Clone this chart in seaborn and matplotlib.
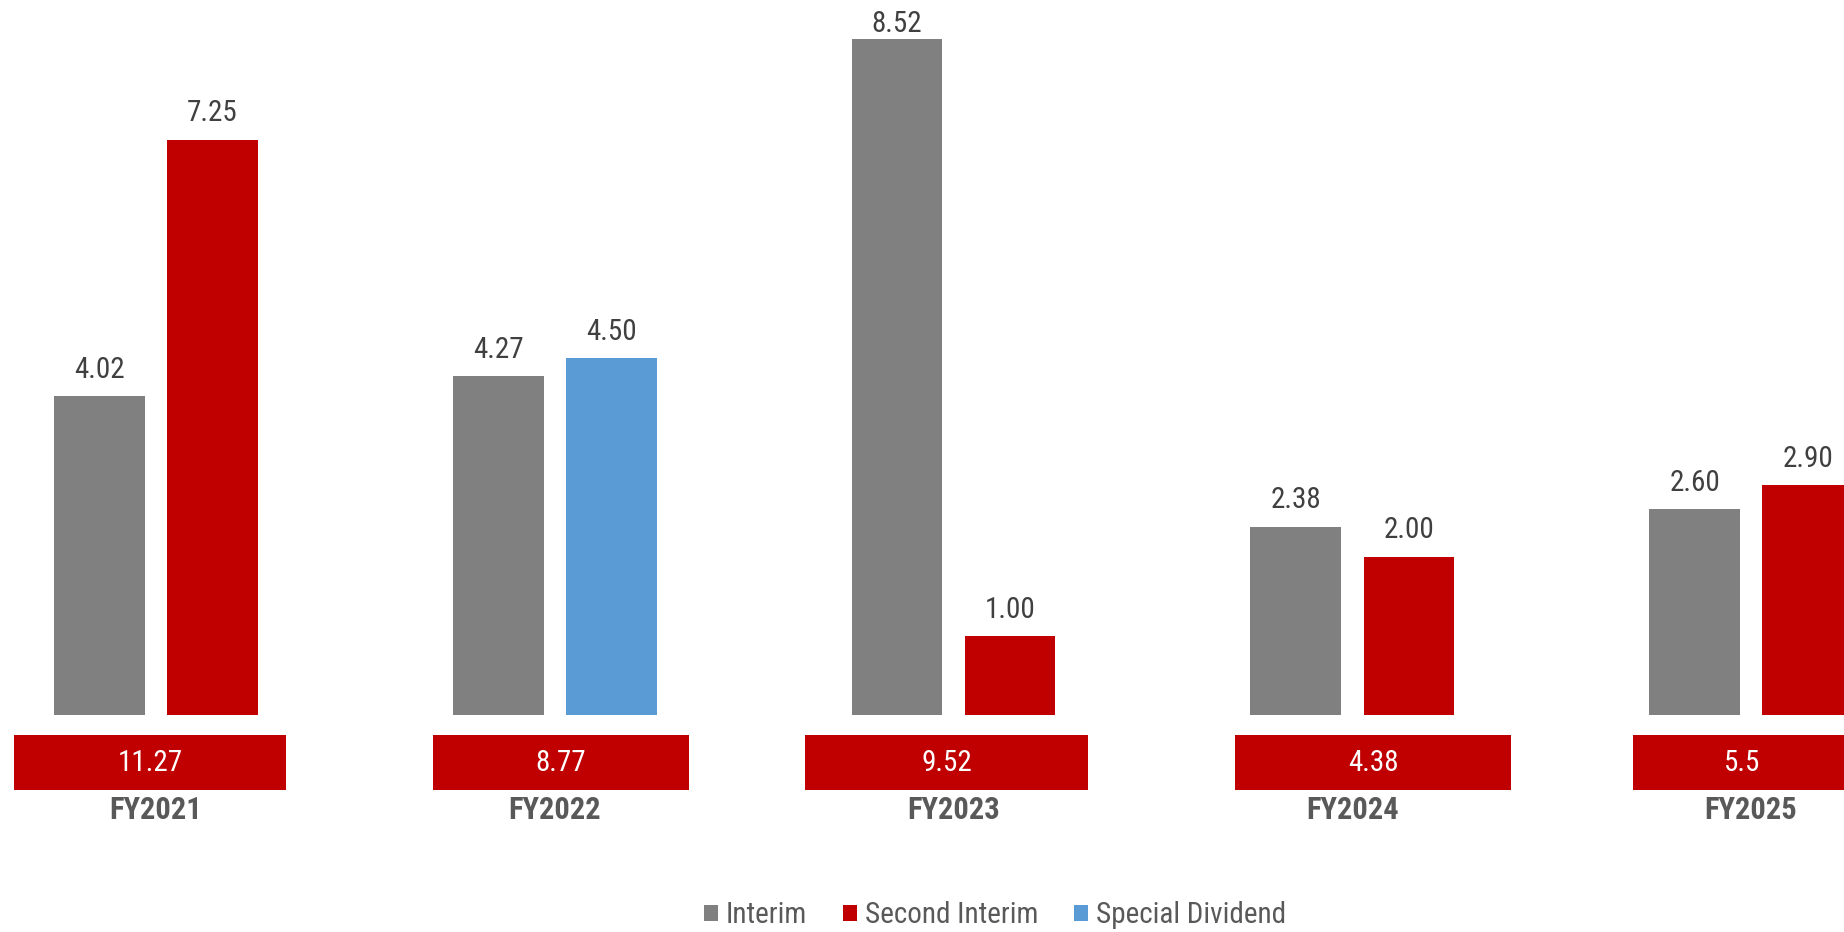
import matplotlib
matplotlib.use("Agg")
import matplotlib.pyplot as plt
from matplotlib.patches import Rectangle
from matplotlib import font_manager
import seaborn as sns
import pandas as pd

# ---- data ----
years = ["FY2021", "FY2022", "FY2023", "FY2024", "FY2025"]
interim = [4.02, 4.27, 8.52, 2.38, 2.60]
second_interim = [7.25, None, 1.00, 2.00, 2.90]
special_dividend = [None, 4.50, None, None, None]
totals = ["11.27", "8.77", "9.52", "4.38", "5.5"]
series_names = ["Interim", "Second Interim", "Special Dividend"]

# ---- style ----
sns.set_theme(style="white")
names = sorted({f.name for f in font_manager.fontManager.ttflist})
narrow = None
for cand in ["Liberation Sans Narrow", "Arial Narrow", "Roboto Condensed", "Open Sans Condensed"]:
    if cand in names:
        narrow = cand
        break
if narrow is None:
    for n in names:
        if "Narrow" in n or "Condensed" in n:
            narrow = n
            break
if narrow is None:
    narrow = "Liberation Sans"
    scale = 0.9
else:
    scale = 1.0
plt.rcParams["font.family"] = [narrow, "DejaVu Sans"]

colors = {"Interim": "#808080", "Second Interim": "#C00000", "Special Dividend": "#5B9BD5"}
label_color = "#404040"
cat_color = "#595959"

# layout constants
offset = 0.1417          # half distance between paired bars (group units)
bar_w = 0.227            # bar width (group units)
box_left = [-0.3561, 0.6947, 1.6288, 2.7060, 3.7041]
box_right = [0.3260, 1.3367, 2.3373, 3.3981, 4.2508]
ymax_view = 9.0113

rows = []
for i, y in enumerate(years):
    rows.append({"pos": i - offset, "value": interim[i], "series": "Interim"})
    if second_interim[i] is not None:
        rows.append({"pos": i + offset, "value": second_interim[i], "series": "Second Interim"})
    if special_dividend[i] is not None:
        rows.append({"pos": i + offset, "value": special_dividend[i], "series": "Special Dividend"})
df = pd.DataFrame(rows)

fig = plt.figure(figsize=(18.44, 9.32), dpi=100)
ax = fig.add_axes([0, 0, 1, 1])

native_w = 2 * offset
sns.barplot(data=df, x="pos", y="value", hue="series", hue_order=series_names,
            palette=colors, native_scale=True, dodge=False, errorbar=None,
            width=bar_w / native_w, linewidth=0, saturation=1, ax=ax, legend=True)

for cont in ax.containers:
    anns = ax.bar_label(cont, fmt="%.2f", padding=9, fontsize=21 * scale, color=label_color)
    # labels that would run off the top are tucked down against the bar (as in the source)
    for bar, ann in zip(cont, anns):
        if bar.get_height() > ymax_view - 0.6:
            ann.xyann = (0, 0.6)

ax.set_xlim(-0.3912, 4.2332)
ax.set_ylim(-2.7267, ymax_view)
ax.set_axis_off()

# total boxes and category labels
for i, y in enumerate(years):
    ax.add_patch(Rectangle((box_left[i], -0.9383), box_right[i] - box_left[i], 0.6927,
                           facecolor="#C00000", edgecolor="none", clip_on=False))
    ax.text((box_left[i] + box_right[i]) / 2, -0.598, totals[i], ha="center", va="center",
            fontsize=21 * scale, color="white")
    ax.text(i, -1.19, y, ha="center", va="center", fontsize=22 * scale, fontweight="bold",
            color=cat_color)

handles, labels = ax.get_legend_handles_labels()
ax.legend(handles, labels, loc="center", bbox_to_anchor=(995 / 1844, 1 - 915 / 932),
          bbox_transform=fig.transFigure, ncol=3, frameon=False, fontsize=21 * scale,
          handlelength=0.48, handleheight=0.48, handletextpad=0.25, columnspacing=1.25,
          labelcolor=cat_color)

fig.savefig("out.png", dpi=100)
